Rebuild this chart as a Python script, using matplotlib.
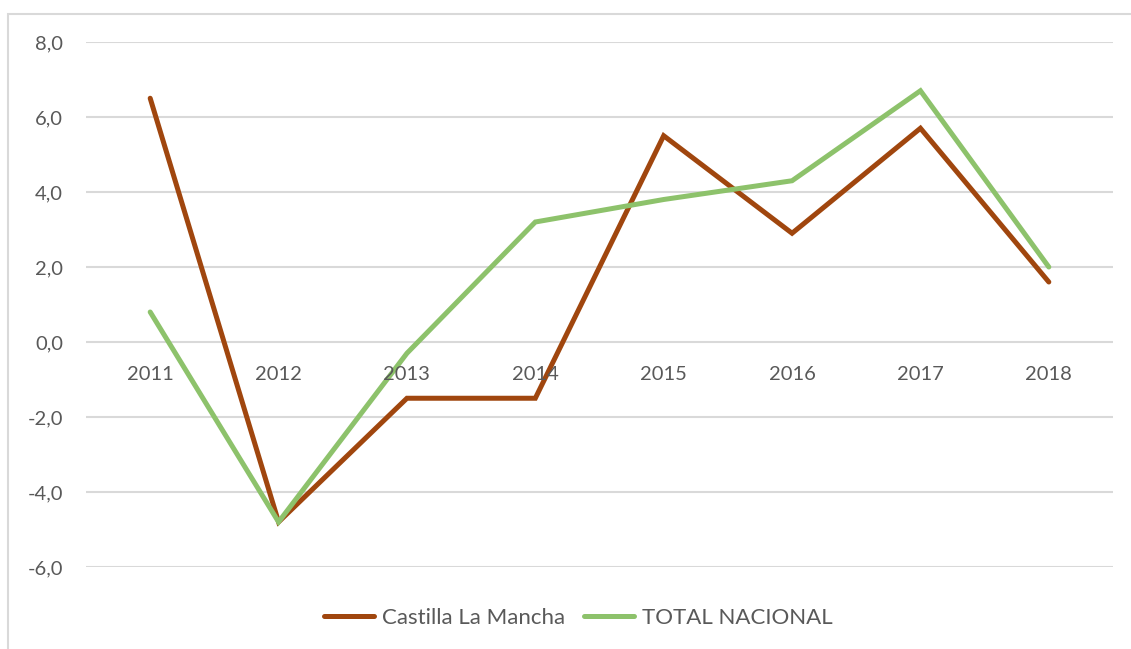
import matplotlib
matplotlib.use("Agg")
import matplotlib.pyplot as plt
from matplotlib.patches import Rectangle

years = ["2011", "2012", "2013", "2014", "2015", "2016", "2017", "2018"]
castilla = [6.5, -4.8, -1.5, -1.5, 5.5, 2.9, 5.7, 1.6]
nacional = [0.8, -4.8, -0.3, 3.2, 3.8, 4.3, 6.7, 2.0]
y_ticks = [-6, -4, -2, 0, 2, 4, 6, 8]

plt.rcParams['font.family'] = ['Lato', 'DejaVu Sans']
text_color = "#595959"
grid_color = "#d9d9d9"
fs = 14.5

W, H = 1131, 649
fig = plt.figure(figsize=(W / 100, H / 100), dpi=100)
ax = fig.add_axes([86 / W, (H - 567) / H, (1113 - 86) / W, 525 / H])

# outer chart frame
fig.patches.append(Rectangle((8 / W, -0.1), 1.2, (H - 14) / H + 0.1,
                             transform=fig.transFigure, fill=False,
                             edgecolor=grid_color, linewidth=1.5))

x = list(range(len(years)))
ax.plot(x, castilla, color="#A0460E", linewidth=3.6, solid_capstyle="round",
        solid_joinstyle="miter", label="Castilla La Mancha", zorder=3)
ax.plot(x, nacional, color="#8DC26B", linewidth=3.6, solid_capstyle="round",
        solid_joinstyle="miter", label="TOTAL NACIONAL", zorder=3)

ax.set_xlim(-0.5, len(years) - 0.5)
ax.set_ylim(-6, 8)
ax.set_yticks(y_ticks)
ax.set_yticklabels([f"{v:.1f}".replace(".", ",") for v in y_ticks])
ax.yaxis.grid(True, color=grid_color, linewidth=1.5)
ax.set_axisbelow(True)
ax.set_xticks([])
ax.tick_params(axis="y", length=0, pad=16.5, labelsize=fs, labelcolor=text_color)
for s in ax.spines.values():
    s.set_visible(False)

# category labels sit just under the zero line
for xi, yr in zip(x, years):
    ax.annotate(yr, (xi, 0), xytext=(0, -32), textcoords="offset pixels",
                ha="center", va="center", fontsize=fs, color=text_color)

leg = fig.legend(loc="center", bbox_to_anchor=(0.5 + 13 / W, (H - 618) / H), ncol=2,
                 frameon=False, fontsize=16, handlelength=2.25,
                 handletextpad=0.36, columnspacing=0.85)
for t in leg.get_texts():
    t.set_color(text_color)

fig.savefig("out.png", dpi=100)
